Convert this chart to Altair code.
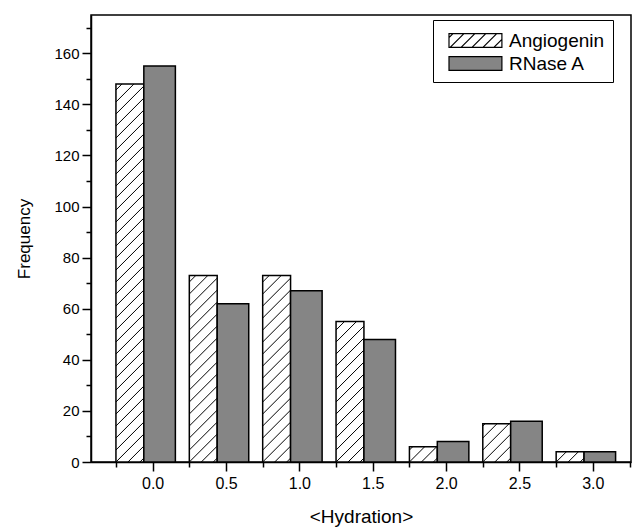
import altair as alt
import pandas as pd

# ---- data ----
hydration = [0.0, 0.5, 1.0, 1.5, 2.0, 2.5, 3.0]
angiogenin = [148, 73, 73, 55, 6, 15, 4]
rnase = [155, 62, 67, 48, 8, 16, 4]
series_names = ["Angiogenin", "RNase A"]

# ---- layout constants ----
W, H = 540, 447
XMIN, XMAX = -0.42, 3.26
YMIN, YMAX = 0, 175
FONT = "Liberation Sans"
GRAY = "#858585"
OFF = {"Angiogenin": (-0.25, -0.06), "RNase A": (-0.06, 0.155)}

rows = []
for h, a, r in zip(hydration, angiogenin, rnase):
    rows.append({"series": "Angiogenin", "hyd": h, "value": a})
    rows.append({"series": "RNase A", "hyd": h, "value": r})
df = pd.DataFrame(rows)
df["x0"] = df["hyd"] + df["series"].map(lambda s: OFF[s][0])
df["x1"] = df["hyd"] + df["series"].map(lambda s: OFF[s][1])

# hatch segments (45 degrees in pixel space) derived from Angiogenin values
kx = W / (XMAX - XMIN)
ky = H / (YMAX - YMIN)
SP = 12.0
hatch = []
for h, v in zip(hydration, angiogenin):
    a0 = h + OFF["Angiogenin"][0]
    a1 = h + OFF["Angiogenin"][1]
    w = (a1 - a0) * kx
    hh = v * ky
    k = -int(w // SP) - 1
    while True:
        d = k * SP
        if d >= hh:
            break
        xs = max(0.0, -d)
        xe = min(w, hh - d)
        if xe - xs > 0.5:
            hatch.append({
                "xa": a0 + xs / kx, "xb": a0 + xe / kx,
                "ya": (xs + d) / ky, "yb": (xe + d) / ky,
            })
        k += 1
hatch_df = pd.DataFrame(hatch)

# legend symbol paths (custom shapes, unit = sqrt(size)/2)
L, R, T, B = -1.0, 3.6, -0.6, 0.6
rect_path = f"M{L},{T}L{R},{T}L{R},{B}L{L},{B}Z"
segs = []
step = 0.95
xb = L - 1.2 + 0.35
while xb < R:
    t0 = max(0.0, L - xb)
    t1 = min(1.2, R - xb)
    if t1 - t0 > 0.05:
        segs.append(f"M{xb + t0:.3f},{B - t0:.3f}L{xb + t1:.3f},{B - t1:.3f}")
    xb += step
hatch_path = rect_path + "".join(segs)

x_major = [0.0, 0.5, 1.0, 1.5, 2.0, 2.5, 3.0]
x_minor = [-0.25, 0.25, 0.75, 1.25, 1.75, 2.25, 2.75, 3.25]
y_major = list(range(0, 161, 20))
y_minor = list(range(10, 171, 20))

xscale = alt.Scale(domain=[XMIN, XMAX], nice=False, zero=False)
yscale = alt.Scale(domain=[YMIN, YMAX], nice=False)

xaxis = alt.Axis(
    title="<Hydration>", values=x_major, grid=False, format=".1f", orient="bottom",
    tickSize=9, labelOverlap=False, labelFontSize=16, titleFontSize=19,
    labelPadding=4, titlePadding=16, labelFlush=False,
)
yaxis = alt.Axis(
    title="Frequency", values=y_major, grid=False, orient="left",
    tickSize=9, labelOverlap=False, labelFontSize=15, titleFontSize=17,
    labelPadding=3, titlePadding=20, labelFlush=False,
)
xaxis_minor = alt.Axis(
    title=None, values=x_minor, grid=False, orient="bottom", labels=False,
    domain=False, tickSize=5,
)
yaxis_minor = alt.Axis(
    title=None, values=y_minor, grid=False, orient="left", labels=False,
    domain=False, tickSize=5,
)

legend = alt.Legend(
    title=None, orient="none", legendX=342, legendY=5,
    padding=8, strokeColor="black", fillColor="white",
    labelFontSize=19, labelFont=FONT, labelOffset=36,
    labelExpr="datum.label + '\u00a0\u00a0'",
    symbolSize=529, symbolStrokeColor="black", symbolStrokeWidth=1.2,
    symbolOpacity=1, symbolOffset=7, rowPadding=0,
)

fill_scale = alt.Scale(domain=series_names, range=["white", GRAY])
shape_scale = alt.Scale(domain=series_names, range=[hatch_path, rect_path])
stroke_scale = alt.Scale(domain=series_names, range=["black", "black"])

bars = alt.Chart(df).mark_rect(stroke="black", strokeWidth=1.5).encode(
    x=alt.X("x0:Q", scale=xscale, axis=xaxis),
    x2="x1:Q",
    y=alt.Y("value:Q", scale=yscale, axis=yaxis),
    y2=alt.datum(0),
    fill=alt.Fill("series:N", scale=fill_scale, legend=legend),
)

hatch_layer = alt.Chart(hatch_df).mark_rule(color="black", strokeWidth=1).encode(
    x=alt.X("xa:Q", scale=xscale, axis=xaxis_minor),
    x2="xb:Q",
    y=alt.Y("ya:Q", scale=yscale, axis=yaxis_minor),
    y2="yb:Q",
)

# legend carrier: no visible points, supplies shape/stroke for the legend symbols
legend_layer = alt.Chart(df).mark_point(filled=True, opacity=1, strokeWidth=1.2).encode(
    x=alt.X("hyd:Q", scale=xscale, axis=None),
    y=alt.Y("value:Q", scale=yscale, axis=None),
    fill=alt.Fill("series:N", scale=fill_scale, legend=legend),
    shape=alt.Shape("series:N", scale=shape_scale, legend=legend),
    stroke=alt.Stroke("series:N", scale=stroke_scale, legend=legend),
).transform_filter("datum.value < 0")

chart = alt.layer(bars, hatch_layer, legend_layer).resolve_axis(
    x="independent", y="independent"
).properties(
    width=W, height=H,
    autosize=alt.AutoSizeParams(type="none"),
    padding={"left": 91, "top": 15, "right": 6, "bottom": 66},
).configure_view(
    stroke="black", strokeWidth=1.5
).configure_axis(
    domainColor="black", domainWidth=1.5, tickColor="black", tickWidth=1.5,
    labelColor="black", titleColor="black", labelFont=FONT, titleFont=FONT,
    titleFontWeight="normal",
)

chart.save("out.html", embed_options={"renderer": "svg", "actions": False})
